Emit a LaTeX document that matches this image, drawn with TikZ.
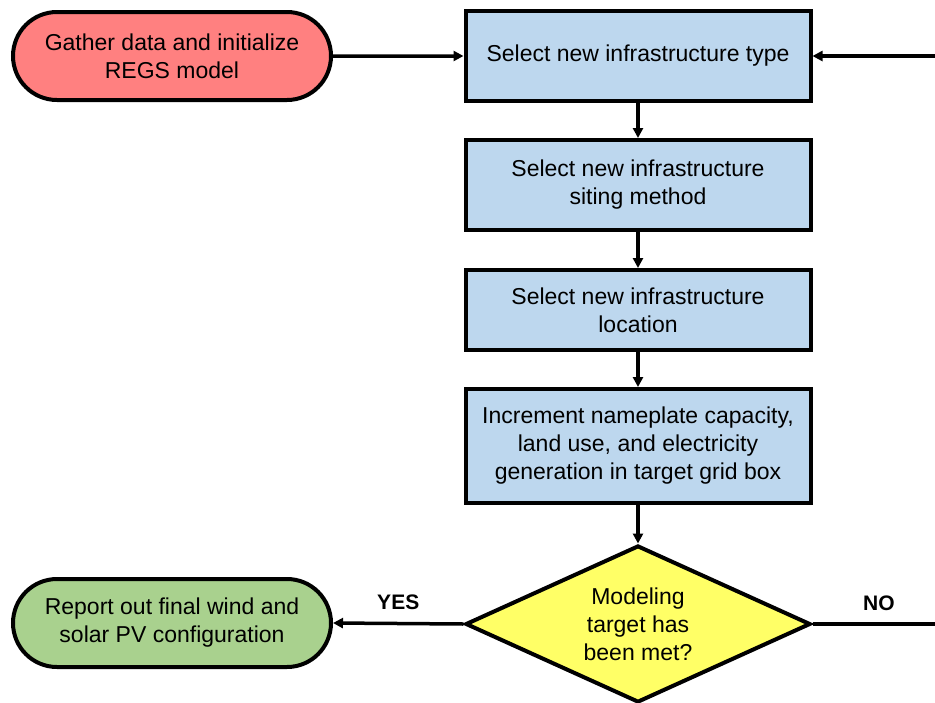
\documentclass[tikz,border=0pt]{standalone}
\usepackage{fontspec}
\setmainfont{Liberation Sans}
\usetikzlibrary{shapes.geometric,shapes.misc,arrows.meta}
\definecolor{startred}{RGB}{255,128,128}
\definecolor{boxblue}{RGB}{189,215,238}
\definecolor{decyellow}{RGB}{255,255,102}
\definecolor{endgreen}{RGB}{169,209,142}
\begin{document}
\begin{tikzpicture}[x=1pt,y=-1pt,
  every node/.style={font=\fontsize{23}{28}\selectfont, align=center, inner sep=0pt},
  terminal/.style={rounded rectangle, draw=black, line width=4pt, minimum width=318pt, minimum height=88pt},
  procbox/.style={rectangle, draw=black, line width=4pt, fill=boxblue, minimum width=345pt},
  decision/.style={diamond, draw=black, line width=4pt, fill=decyellow, minimum width=345pt, minimum height=157pt, aspect=2.2},
  conn/.style={line width=3.5pt, -{Triangle[length=10pt,width=10pt]}},
  plain/.style={line width=3.5pt},
  lbl/.style={font=\fontsize{21}{24}\selectfont\bfseries}
]
\useasboundingbox (0,0) rectangle (935,702);
\clip (0,0) rectangle (935,702);
\node[terminal, fill=startred] (start) at (172,56) {Gather data and initialize\\REGS model};
\node[procbox, minimum height=90pt] (type) at (638,56) {Select new infrastructure type};
\node[procbox, minimum height=90pt] (siting) at (638,185) {Select new infrastructure\\siting method};
\node[procbox, minimum height=80pt] (loc) at (638,310) {Select new infrastructure\\location};
\node[procbox, minimum height=114pt] (inc) at (638,446) {Increment nameplate capacity,\\land use, and electricity\\generation in target grid box};
\node[decision] (dec) at (638,624) {Modeling\\target has\\been met?};
\node[terminal, fill=endgreen] (rep) at (172,623) {Report out final wind and\\solar PV configuration};
\coordinate (noend) at (960,624);
\coordinate (backin) at (960,56);
\draw[conn] (start) -- (type);
\draw[conn] (type) -- (siting);
\draw[conn] (siting) -- (loc);
\draw[conn] (loc) -- (inc);
\draw[conn] (inc) -- (dec);
\draw[conn] (dec.west) -- node[lbl, above=12pt] (yes) {YES} (rep.east);
\draw[plain] (dec.east) -- node[lbl, above=12pt, pos=0.45] (no) {NO} (noend);
\draw[plain] (noend) -- (backin);
\draw[conn] (backin) -- (type.east);
\end{tikzpicture}
\end{document}
